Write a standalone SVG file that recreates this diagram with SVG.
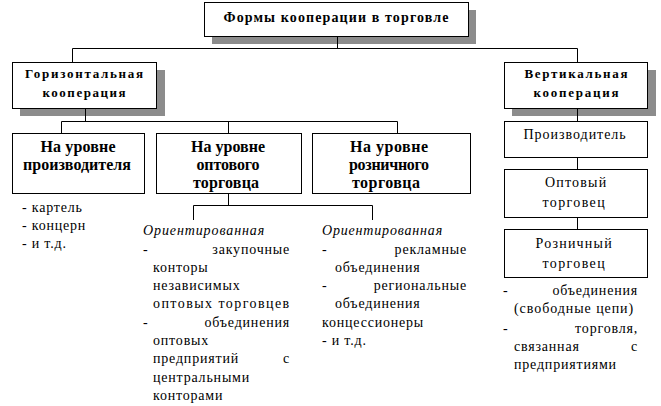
<svg xmlns="http://www.w3.org/2000/svg" width="661" height="406" viewBox="0 0 661 406">
<style>
.bx{fill:#fff;stroke:#000;stroke-width:1}
.sh{fill:#8c8c8c}
.ln{fill:none;stroke:#000;stroke-width:1}
text{fill:#000}
.b{font-weight:bold;text-anchor:middle}
.r{font-size:14px;letter-spacing:0.8px}
.c{text-anchor:middle}
.e{text-anchor:end}
.i{font-style:italic}
</style>
<rect width="661" height="406" fill="#fff"/>
<g id="connectors">
<path class="ln" d="M72.5 62V48.5H577.5V62"/>
<path class="ln" d="M61.5 133V121.5H397.5V133M228.5 121.5V133"/>
<path class="ln" d="M228.5 193V205.5M193.5 220V205.5H372.5V220"/>
<path class="ln" d="M577.5 157V169M577.5 217V229"/>
</g>
<g font-family="Liberation Serif, Tinos, Noto Serif, DejaVu Serif, FreeSerif, Times New Roman, Times, serif">
<g id="title">
<rect class="sh" x="212" y="10" width="264" height="34"/>
<rect class="bx" x="204.5" y="2.5" width="264" height="34"/>
<text class="b" x="336" y="22" font-size="14" textLength="225" lengthAdjust="spacing">Формы кооперации в торговле</text>
</g>
<g id="horizontal">
<rect class="sh" x="20" y="70" width="145" height="46"/>
<rect class="bx" x="12.5" y="62.5" width="144" height="46"/>
<text class="b" x="84" y="78" font-size="13" textLength="118" lengthAdjust="spacing">Горизонтальная</text>
<text class="b" x="84" y="97" font-size="13" textLength="83" lengthAdjust="spacing">кооперация</text>
</g>
<g id="vertical">
<rect class="sh" x="512" y="70" width="144" height="46"/>
<rect class="bx" x="504.5" y="62.5" width="143" height="46"/>
<text class="b" x="576" y="78" font-size="13" textLength="103" lengthAdjust="spacing">Вертикальная</text>
<text class="b" x="576" y="97" font-size="13" textLength="85" lengthAdjust="spacing">кооперация</text>
</g>
<g id="connectors-over-shadow">
<path class="ln" d="M337.5 36V48.5M85.5 108V121.5M577.5 108V121"/>
</g>
<g id="level-producer">
<rect class="bx" x="12.5" y="133.5" width="132" height="60"/>
<text class="b" x="78" y="152" font-size="16" textLength="75" lengthAdjust="spacing">На уровне</text>
<text class="b" x="77" y="170" font-size="16" textLength="108" lengthAdjust="spacing">производителя</text>
</g>
<g id="level-wholesale">
<rect class="bx" x="156.5" y="133.5" width="145" height="60"/>
<text class="b" x="228" y="152" font-size="16" textLength="74" lengthAdjust="spacing">На уровне</text>
<text class="b" x="228" y="170" font-size="16" textLength="63" lengthAdjust="spacing">оптового</text>
<text class="b" x="226" y="188" font-size="16" textLength="66" lengthAdjust="spacing">торговца</text>
</g>
<g id="level-retail">
<rect class="bx" x="312.5" y="133.5" width="158" height="60"/>
<text class="b" x="389" y="152" font-size="16" textLength="78" lengthAdjust="spacing">На уровне</text>
<text class="b" x="389" y="170" font-size="16" textLength="80" lengthAdjust="spacing">розничного</text>
<text class="b" x="386" y="188" font-size="16" textLength="68" lengthAdjust="spacing">торговца</text>
</g>
<g id="producer">
<rect class="bx" x="504.5" y="121.5" width="143" height="36"/>
<text class="r c" x="575" y="139" textLength="103" lengthAdjust="spacing">Производитель</text>
</g>
<g id="wholesaler">
<rect class="bx" x="504.5" y="169.5" width="143" height="48"/>
<text class="r c" x="576" y="187" textLength="62" lengthAdjust="spacing">Оптовый</text>
<text class="r c" x="574" y="207" textLength="63" lengthAdjust="spacing">торговец</text>
</g>
<g id="retailer">
<rect class="bx" x="504.5" y="229.5" width="143" height="48"/>
<text class="r c" x="574" y="248" textLength="77" lengthAdjust="spacing">Розничный</text>
<text class="r c" x="574" y="268" textLength="63" lengthAdjust="spacing">торговец</text>
</g>
<g id="list-producer">
<text class="r" x="22" y="212">- картель</text>
<text class="r" x="22" y="230">- концерн</text>
<text class="r" x="22" y="248">- и т.д.</text>
</g>
<g id="list-wholesale">
<text class="r i" x="143" y="235" textLength="122" lengthAdjust="spacing">Ориентированная</text>
<text class="r" x="143" y="254">-</text>
<text class="r e" x="290" y="254">закупочные</text>
<text class="r" x="153" y="272">конторы</text>
<text class="r" x="153" y="290">независимых</text>
<text class="r" x="153" y="308" textLength="137" lengthAdjust="spacing">оптовых торговцев</text>
<text class="r" x="143" y="327">-</text>
<text class="r e" x="290" y="327">объединения</text>
<text class="r" x="153" y="345">оптовых</text>
<text class="r" x="153" y="363">предприятий</text>
<text class="r e" x="290" y="363">с</text>
<text class="r" x="153" y="382">центральными</text>
<text class="r" x="153" y="400">конторами</text>
</g>
<g id="list-retail">
<text class="r i" x="322" y="235" textLength="121" lengthAdjust="spacing">Ориентированная</text>
<text class="r" x="322" y="254">-</text>
<text class="r e" x="467" y="254">рекламные</text>
<text class="r" x="335" y="272">объединения</text>
<text class="r" x="322" y="290">-</text>
<text class="r e" x="467" y="290">региональные</text>
<text class="r" x="335" y="308">объединения</text>
<text class="r" x="322" y="327">концессионеры</text>
<text class="r" x="322" y="345">- и т.д.</text>
</g>
<g id="list-vertical">
<text class="r" x="503" y="295">-</text>
<text class="r e" x="638" y="295">объединения</text>
<text class="r" x="514" y="313" textLength="120" lengthAdjust="spacing">(свободные цепи)</text>
<text class="r" x="503" y="333">-</text>
<text class="r e" x="638" y="333">торговля,</text>
<text class="r" x="514" y="351">связанная</text>
<text class="r e" x="638" y="351">с</text>
<text class="r" x="514" y="369">предприятиями</text>
</g>
</g>
</svg>
